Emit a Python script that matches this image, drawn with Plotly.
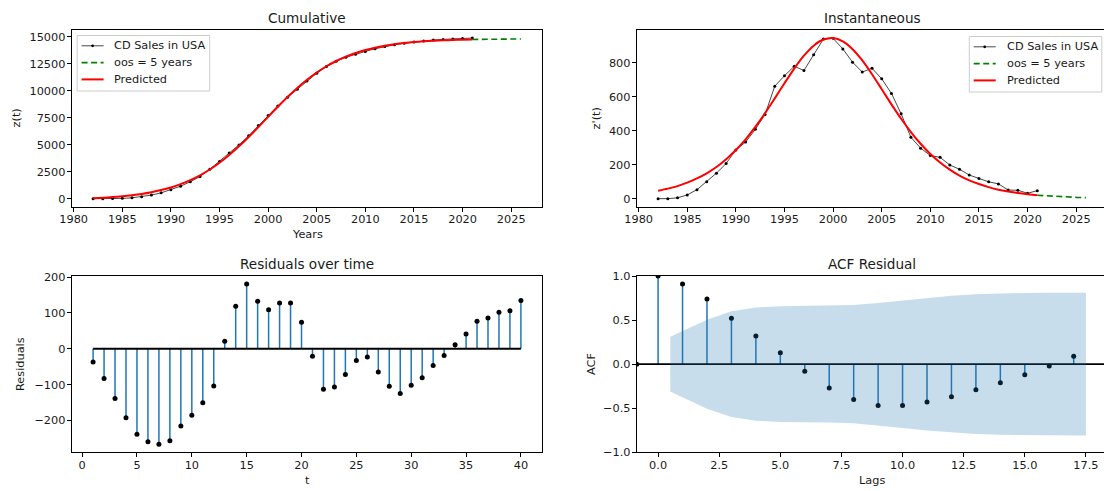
import plotly.graph_objects as go

# ---------------- data ----------------
years = list(range(1982, 2022))
oos_years = list(range(2021, 2027))

sales = [0, 0, 5, 22, 53, 100, 150, 207, 287, 333, 408, 495, 662, 723, 779, 754, 847, 939, 943, 881,
         803, 745, 767, 705, 619, 499, 361, 297, 254, 243, 198, 173, 139, 118, 99, 87, 51, 49, 32, 47]
sales_cum = [0, 0, 5, 27, 80, 180, 330, 537, 824, 1157, 1565, 2060, 2722, 3445, 4224, 4978, 5825, 6764,
             7707, 8588, 9391, 10136, 10903, 11608, 12227, 12726, 13087, 13384, 13638, 13881, 14079,
             14252, 14391, 14509, 14608, 14695, 14746, 14795, 14827, 14874]
pred_cum = [37, 83, 144, 220, 319, 440, 597, 794, 1040, 1343, 1716, 2164, 2701, 3326, 4043, 4845, 5716,
            6636, 7579, 8514, 9412, 10249, 11010, 11680, 12260, 12749, 13152, 13489, 13763, 13983,
            14160, 14299, 14410, 14498, 14567, 14618, 14660, 14693, 14721, 14739]
oos_cum = [14739, 14755, 14768, 14777, 14785, 14791]
pred_inst = [46, 59, 74, 94, 119, 149, 186, 232, 286, 349, 422, 503, 590, 679, 765, 841, 900, 936, 945, 925,
             879, 813, 732, 644, 555, 470, 392, 323, 263, 213, 171, 136, 108, 86, 68, 53, 42, 33, 26, 20]
oos_inst = [20, 16, 12.5, 9.8, 7.7, 6.0]

t_index = list(range(1, 41))
residuals = [-37, -83, -139, -193, -239, -260, -267, -257, -216, -186, -151, -104, 21, 119, 181, 133,
             109, 128, 128, 74, -21, -113, -107, -72, -33, -23, -65, -105, -125, -102, -81, -47, -19,
             11, 41, 77, 86, 102, 106, 135]

lags = list(range(0, 18))
acf_vals = [1.0, 0.91, 0.74, 0.52, 0.32, 0.13, -0.08, -0.27, -0.40, -0.47, -0.47, -0.43, -0.37, -0.29,
            -0.21, -0.12, -0.02, 0.09]
band_x = [0.5, 2, 3, 4, 5, 6, 7, 8, 9, 10, 11, 12, 13, 14, 15, 16, 17.5]
band_hi = [0.31, 0.505, 0.60, 0.642, 0.657, 0.66, 0.661, 0.671, 0.694, 0.724, 0.752, 0.776, 0.792,
           0.802, 0.808, 0.809, 0.81]
band_lo = [-0.31, -0.505, -0.60, -0.642, -0.657, -0.66, -0.661, -0.671, -0.694, -0.724, -0.752, -0.776,
           -0.792, -0.802, -0.808, -0.809, -0.81]

year_ticks = [1980, 1985, 1990, 1995, 2000, 2005, 2010, 2015, 2020, 2025]
cum_ticks = [0, 2500, 5000, 7500, 10000, 12500, 15000]
inst_ticks = [0, 200, 400, 600, 800]
t_ticks = [0, 5, 10, 15, 20, 25, 30, 35, 40]
res_ticks = [-200, -100, 0, 100, 200]
lag_ticks = [0.0, 2.5, 5.0, 7.5, 10.0, 12.5, 15.0, 17.5]
acf_ticks = [-1.0, -0.5, 0.0, 0.5, 1.0]

# ---------------- layout helpers ----------------
W, H = 1104, 491
FONT = "DejaVu Sans"
TXT = "#1a1a1a"
FS = 11.3
TFS = 13.6


def PX(x):
    return x / W


def PY(y):
    return 1 - y / H


def lab(v, fmt="{:g}"):
    s = fmt.format(v)
    return s.replace("-", "\u2212")


L_X = (71.7, 542.3)
R_X = (636.7, 1104.0)
T_Y = (30.0, 206.7)
B_Y = (276.0, 452.3)

fig = go.Figure()

BLUE = "#1f77b4"
OBS = "rgba(0,0,0,0.72)"

# ---- Top-left: cumulative ----
fig.add_trace(go.Scatter(x=years, y=sales_cum, mode="lines+markers", xaxis="x", yaxis="y",
                         line=dict(color=OBS, width=1), marker=dict(color="black", size=3),
                         showlegend=False))
fig.add_trace(go.Scatter(x=oos_years, y=oos_cum, mode="lines", xaxis="x", yaxis="y",
                         line=dict(color="green", width=1.6, dash="6px,3.5px"), showlegend=False))
fig.add_trace(go.Scatter(x=years, y=pred_cum, mode="lines", xaxis="x", yaxis="y",
                         line=dict(color="red", width=2, shape="spline", smoothing=0.6),
                         showlegend=False))

# ---- Top-right: instantaneous ----
fig.add_trace(go.Scatter(x=years, y=sales, mode="lines+markers", xaxis="x2", yaxis="y2",
                         line=dict(color=OBS, width=1), marker=dict(color="black", size=3),
                         showlegend=False))
fig.add_trace(go.Scatter(x=oos_years, y=oos_inst, mode="lines", xaxis="x2", yaxis="y2",
                         line=dict(color="green", width=1.6, dash="6px,3.5px"), showlegend=False))
fig.add_trace(go.Scatter(x=years, y=pred_inst, mode="lines", xaxis="x2", yaxis="y2",
                         line=dict(color="red", width=2, shape="spline", smoothing=0.8),
                         showlegend=False))

# ---- Bottom-left: residual stems ----
sx, sy = [], []
for t, r in zip(t_index, residuals):
    sx += [t, t, None]
    sy += [0, r, None]
fig.add_trace(go.Scatter(x=sx, y=sy, mode="lines", xaxis="x3", yaxis="y3",
                         line=dict(color=BLUE, width=1.5), showlegend=False))
fig.add_trace(go.Scatter(x=[t_index[0], t_index[-1]], y=[0, 0], mode="lines", xaxis="x3", yaxis="y3",
                         line=dict(color="black", width=1.8), showlegend=False))
fig.add_trace(go.Scatter(x=t_index, y=residuals, mode="markers", xaxis="x3", yaxis="y3",
                         marker=dict(color="black", size=5), showlegend=False))

# ---- Bottom-right: ACF ----
acf_xlim = [-0.875, 18.375]
vx, vy = [], []
for k, a in zip(lags, acf_vals):
    vx += [k, k, None]
    vy += [0, a, None]
fig.add_trace(go.Scatter(x=vx, y=vy, mode="lines", xaxis="x4", yaxis="y4",
                         line=dict(color=BLUE, width=1.5), showlegend=False))
fig.add_trace(go.Scatter(x=acf_xlim, y=[0, 0], mode="lines+markers", xaxis="x4", yaxis="y4",
                         line=dict(color="black", width=1.8), marker=dict(color="black", size=5),
                         showlegend=False))
fig.add_trace(go.Scatter(x=lags, y=acf_vals, mode="markers", xaxis="x4", yaxis="y4",
                         marker=dict(color="black", size=5), showlegend=False))
fig.add_trace(go.Scatter(x=band_x + band_x[::-1], y=band_hi + band_lo[::-1], mode="lines",
                         fill="toself", fillcolor="rgba(31,119,180,0.25)",
                         line=dict(width=0, color="rgba(0,0,0,0)"), xaxis="x4", yaxis="y4",
                         showlegend=False, hoverinfo="skip"))

# ---------------- axes ----------------
tickfont = dict(family=FONT, size=FS, color=TXT)


def xax(dom, rng, tv, tt, mirror, anchor):
    return dict(domain=[PX(dom[0]), PX(dom[1])], range=rng, tickvals=tv, ticktext=tt,
                showline=True, linecolor="black", linewidth=1, mirror=mirror,
                ticks="outside", ticklen=4, tickwidth=1, tickcolor="black", automargin=False,
                ticklabelstandoff=-2,
                showgrid=False, zeroline=False, tickfont=tickfont, anchor=anchor)


def yax(dom, rng, tv, tt, mirror, anchor):
    return dict(domain=[PY(dom[1]), PY(dom[0])], range=rng, tickvals=tv, ticktext=tt,
                showline=True, linecolor="black", linewidth=1, mirror=mirror,
                ticks="outside", ticklen=4, tickwidth=1, tickcolor="black", automargin=False,
                ticklabelstandoff=-1,
                showgrid=False, zeroline=False, tickfont=tickfont, anchor=anchor)


year_text = [str(v) for v in year_ticks]
fig.update_layout(
    xaxis=xax(L_X, [1979.8, 2028.2], year_ticks, year_text, True, "y"),
    yaxis=yax(T_Y, [-744, 15618], cum_ticks, [str(v) for v in cum_ticks], True, "x"),
    xaxis2=xax(R_X, [1979.8, 2027.86], year_ticks, year_text, True, "y2"),
    yaxis2=yax(T_Y, [-47.25, 992.25], inst_ticks, [str(v) for v in inst_ticks], False, "x2"),
    xaxis3=xax(L_X, [-0.95, 41.95], t_ticks, [str(v) for v in t_ticks], True, "y3"),
    yaxis3=yax(B_Y, [-289.4, 203.4], res_ticks, [lab(v) for v in res_ticks], True, "x3"),
    xaxis4=xax(R_X, [acf_xlim[0], 18.24], lag_ticks, [lab(v, "{:.1f}") for v in lag_ticks], True, "y4"),
    yaxis4=yax(B_Y, [-1, 1], acf_ticks, [lab(v, "{:.1f}") for v in acf_ticks], False, "x4"),
)

# ---------------- text ----------------
ann = []


def text(x, y, s, size=FS, angle=0, xanchor="center"):
    ann.append(dict(x=PX(x), y=PY(y), xref="paper", yref="paper", text=s, showarrow=False,
                    font=dict(family=FONT, size=size, color=TXT), textangle=angle,
                    xanchor=xanchor, yanchor="middle"))


text(307, 18, "Cumulative", TFS)
text(872, 18, "Instantaneous", TFS)
text(307, 264, "Residuals over time", TFS)
text(872, 264, "ACF Residual", TFS)
text(307, 234, "Years")
text(16, 118.4, "z(t)", angle=-90)
text(596, 118.4, "z'(t)", angle=-90)
text(20, 364, "Residuals", angle=-90)
text(591, 364, "ACF", angle=-90)
text(307, 480, "t")
text(872, 480, "Lags")

# ---------------- manual legends ----------------
shapes = []
legend_entries = [
    ("CD Sales in USA", OBS, 1, "solid", True),
    ("oos = 5 years", "green", 1.6, "6px,3.5px", False),
    ("Predicted", "red", 2, "solid", False),
]


def legend(left, top):
    bw, bh = 132.5, 55.5
    shapes.append(dict(type="rect", xref="paper", yref="paper", x0=PX(left), x1=PX(left + bw),
                       y0=PY(top + bh), y1=PY(top), line=dict(color="#cccccc", width=1),
                       fillcolor="rgba(255,255,255,0.85)", layer="above"))
    for i, (name, col, w, dash, mk) in enumerate(legend_entries):
        yr = top + 10.3 + 16.8 * i
        shapes.append(dict(type="line", xref="paper", yref="paper", x0=PX(left + 4.4),
                           x1=PX(left + 26.4), y0=PY(yr), y1=PY(yr),
                           line=dict(color=col, width=w, dash=dash), layer="above"))
        if mk:
            cx = left + 15.4
            shapes.append(dict(type="circle", xref="paper", yref="paper", x0=PX(cx - 1.4),
                               x1=PX(cx + 1.4), y0=PY(yr + 1.4), y1=PY(yr - 1.4),
                               fillcolor="black", line=dict(width=0), layer="above"))
        text(left + 35.2, yr, name, FS, xanchor="left")


legend(77.2, 35.5)
legend(969.3, 36.5)

fig.update_layout(
    width=W, height=H, margin=dict(l=0, r=0, t=0, b=0, pad=0),
    paper_bgcolor="white", plot_bgcolor="white",
    annotations=ann, shapes=shapes, showlegend=False,
    font=dict(family=FONT, size=FS, color=TXT),
)

fig.write_html("out.html")
